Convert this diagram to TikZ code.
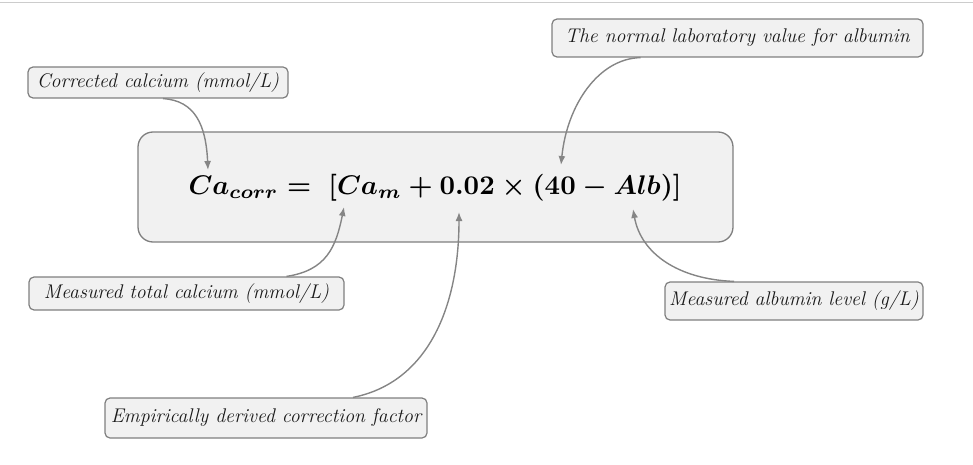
\documentclass[tikz,border=0pt]{standalone}
\usepackage{amsmath}
\usetikzlibrary{arrows.meta,calc}
\definecolor{bordergray}{HTML}{7F7F7F}
\definecolor{fillgray}{HTML}{F1F1F1}
\definecolor{arrowgray}{HTML}{858585}
\begin{document}
\begin{tikzpicture}[x=1pt,y=-1pt,
  lab/.style={draw=bordergray, fill=fillgray, rounded corners=5pt, line width=1.2pt,
    inner sep=0pt, font=\fontsize{19.8}{23}\selectfont\itshape, text=black!90},
  mainbox/.style={draw=bordergray, fill=fillgray, rounded corners=15pt, line width=1.3pt,
    inner sep=0pt, minimum width=595pt, minimum height=110pt},
  conn/.style={draw=arrowgray, line width=1.4pt, -{Latex[length=9pt,width=7pt]}}]
\useasboundingbox (0,0) rectangle (973,465);
\draw[black!20, line width=1pt] (0,3) -- (973,3);
\node[mainbox] (eq) at (435.5,187) {};
\node[text=black] (f) at (435,188) {\resizebox{493pt}{!}{\boldmath$Ca_{corr} =\;[Ca_m + 0.02 \times (40 - Alb)]$}};
\node[lab, minimum width=260pt, minimum height=31pt] (c1) at (158,82.5) {Corrected calcium (mmol/L)};
\node[lab, minimum width=371pt, minimum height=38pt] (c2) at (737.5,38) {The normal laboratory value for albumin};
\node[lab, minimum width=315pt, minimum height=33pt] (c3) at (186.5,293.5) {Measured total calcium (mmol/L)};
\node[lab, minimum width=322pt, minimum height=40pt] (c4) at (266,418) {Empirically derived correction factor};
\node[lab, minimum width=258pt, minimum height=38pt] (c5) at (794,301) {Measured albumin level (g/L)};
\coordinate (t1) at (208,170);
\coordinate (t2) at (561,165);
\coordinate (t3) at (344,207);
\coordinate (t4) at (459,212);
\coordinate (t5) at (633,209);
\draw[conn] ($(c1.south)+(5,0)$) .. controls +(32,2) and +(-2,-45) .. (t1);
\draw[conn] ($(c2.south)+(-97,0)$) .. controls +(-42,1) and +(6,-60) .. (t2);
\draw[conn] ($(c3.north)+(100,0)$) .. controls +(40,-6) and +(-8,40) .. (t3);
\draw[conn] ($(c4.north)+(87,0)$) .. controls +(75,-15) and +(0,95) .. (t4);
\draw[conn] ($(c5.north)+(-60,0)$) .. controls +(-55,-2) and +(8,45) .. (t5);
\end{tikzpicture}
\end{document}
